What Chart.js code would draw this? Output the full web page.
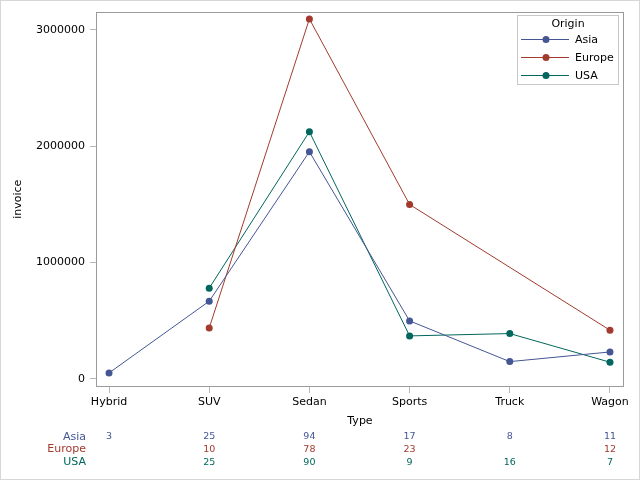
<!DOCTYPE html>
<html>
<head>
<meta charset="utf-8">
<script src="https://cdn.jsdelivr.net/npm/chart.js@4.4.1/dist/chart.umd.min.js"></script>
<style>
  html, body { margin: 0; padding: 0; background: #fff; }
  #wrap { width: 640px; height: 480px; position: relative; }
</style>
</head>
<body>
<div id="wrap"><canvas id="chart"></canvas></div>
<script>
/* ── data ───────────────────────────────────── */
const categories = ["Hybrid", "SUV", "Sedan", "Sports", "Truck", "Wagon"];
const yTicks = [0, 1000000, 2000000, 3000000];

const asiaInvoice = [52000, 668000, 1952000, 499000, 149000, 232000];
const europeInvoice = [null, 438000, 3093000, 1499000, null, 419000];
const usaInvoice = [null, 780000, 2124000, 370000, 390000, 144000];

const asiaCount = [3, 25, 94, 17, 8, 11];
const europeCount = [null, 10, 78, 23, null, 12];
const usaCount = [null, 25, 90, 9, 16, 7];

const COLORS = { Asia: "#445694", Europe: "#A23A2E", USA: "#01665E" };
const FONT = "'DejaVu Sans', sans-serif";

function points(values) {
  return values
    .map((v, i) => (v == null ? null : { x: i, y: v }))
    .filter((p) => p);
}

function series(label, values) {
  const c = COLORS[label];
  return {
    label,
    data: points(values),
    borderColor: c,
    backgroundColor: c,
    pointBackgroundColor: c,
    pointBorderColor: c,
    pointRadius: 3.5,
    pointBorderWidth: 0,
    borderWidth: 1,
    tension: 0,
  };
}

const rows = [
  { label: "Asia", counts: asiaCount },
  { label: "Europe", counts: europeCount },
  { label: "USA", counts: usaCount },
];

/* frame, legend box, count table, outer border */
const extras = {
  id: "extras",
  afterDraw(chart) {
    const { ctx, chartArea: a, scales } = chart;
    ctx.save();
    ctx.strokeStyle = "#9a9a9a";
    ctx.lineWidth = 1;
    ctx.strokeRect(Math.round(a.left) + 0.5, Math.round(a.top) + 0.5,
      Math.round(a.right - a.left) - 1, Math.round(a.bottom - a.top) - 1);

    ctx.strokeStyle = "#d6d6d6";
    ctx.strokeRect(0.5, 0.5, 639, 479);

    // legend
    const lx = 517, ly = 15, lw = 101, lh = 69;
    ctx.fillStyle = "#fff";
    ctx.fillRect(lx, ly, lw, lh);
    ctx.strokeStyle = "#c8c8c8";
    ctx.strokeRect(lx + 0.5, ly + 0.5, lw, lh);
    ctx.font = `11px ${FONT}`;
    ctx.textBaseline = "middle";
    ctx.textAlign = "center";
    ctx.fillStyle = "#000";
    ctx.fillText("Origin", 568, 24);
    chart.data.datasets.forEach((ds, i) => {
      const y = 39 + i * 18;
      ctx.strokeStyle = ds.borderColor;
      ctx.beginPath();
      ctx.moveTo(521, y + 0.5);
      ctx.lineTo(569, y + 0.5);
      ctx.stroke();
      ctx.fillStyle = ds.borderColor;
      ctx.beginPath();
      ctx.arc(546, y + 0.5, 3.5, 0, Math.PI * 2);
      ctx.fill();
      ctx.fillStyle = "#000";
      ctx.textAlign = "left";
      ctx.fillText(ds.label, 575, y + 1);
    });

    // count table
    const x = scales.x;
    rows.forEach((r, ri) => {
      const y = 437 + ri * 12.6;
      ctx.fillStyle = COLORS[r.label];
      ctx.textAlign = "right";
      ctx.font = `11px ${FONT}`;
      ctx.fillText(r.label, 86, y);
      ctx.textAlign = "center";
      ctx.font = `9.5px ${FONT}`;
      r.counts.forEach((n, i) => {
        if (n == null) return;
        ctx.fillText(String(n), x.getPixelForValue(i), y);
      });
    });
    ctx.restore();
  },
};

new Chart(document.getElementById("chart"), {
  type: "line",
  data: {
    datasets: [
      series("Asia", asiaInvoice),
      series("Europe", europeInvoice),
      series("USA", usaInvoice),
    ],
  },
  options: {
    responsive: true,
    maintainAspectRatio: false,
    animation: false,
    layout: { padding: { left: 0, top: 11, right: 16, bottom: 0 } },
    plugins: {
      legend: { display: false },
      tooltip: { enabled: false },
    },
    scales: {
      x: {
        type: "linear",
        min: -0.13,
        max: 5.14,
        afterBuildTicks: (s) => {
          s.ticks = categories.map((_, i) => ({ value: i }));
        },
        afterFit: (s) => {
          s.height = 93;
        },
        grid: {
          drawOnChartArea: false,
          tickLength: 6,
          color: "#b8b8b8",
        },
        border: { display: false },
        ticks: {
          padding: 3,
          color: "#000",
          font: { family: FONT, size: 11 },
          maxRotation: 0,
          callback: (v) => categories[v],
        },
        title: {
          display: true,
          text: "Type",
          color: "#000",
          font: { family: FONT, size: 11 },
          padding: { top: 2, bottom: 52 },
        },
      },
      y: {
        min: -69000,
        max: 3156000,
        afterBuildTicks: (s) => {
          s.ticks = yTicks.map((v) => ({ value: v }));
        },
        afterFit: (s) => {
          s.width = 96;
        },
        grid: {
          drawOnChartArea: false,
          tickLength: 6,
          color: "#b8b8b8",
        },
        border: { display: false },
        ticks: {
          padding: 5,
          color: "#000",
          font: { family: FONT, size: 11 },
          callback: (v) => String(v),
        },
        title: {
          display: true,
          text: "invoice",
          color: "#000",
          font: { family: FONT, size: 11 },
          padding: { top: 12, bottom: 0 },
        },
      },
    },
  },
  plugins: [extras],
});
</script>
</body>
</html>
